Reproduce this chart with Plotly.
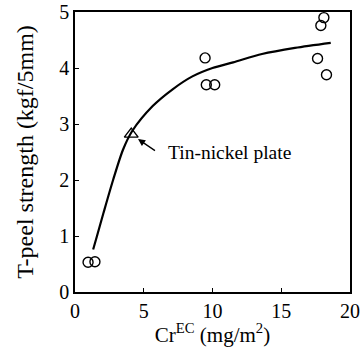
import plotly.graph_objects as go

# Data
cr_points = [0.95, 1.45, 9.46, 9.55, 10.16, 18.1, 17.88, 17.64, 18.29]
peel_points = [0.53, 0.54, 4.18, 3.70, 3.70, 4.90, 4.76, 4.17, 3.88]

tin_nickel_x = [4.09]
tin_nickel_y = [2.82]

curve_x = [1.32, 1.6, 2.07, 2.77, 3.49, 4.15, 5.65, 7.1, 8.54, 10.0, 11.5, 13.6, 16.0, 18.6]
curve_y = [0.76, 1.0, 1.41, 2.0, 2.54, 2.87, 3.32, 3.62, 3.85, 4.0, 4.1, 4.25, 4.36, 4.45]

x_ticks = [0, 5, 10, 15, 20]
y_ticks = [0, 1, 2, 3, 4, 5]

FONT = "Liberation Serif"

fig = go.Figure()
fig.add_trace(go.Scatter(x=curve_x, y=curve_y, mode="lines",
                         line=dict(color="black", width=2.2, shape="spline", smoothing=0.8),
                         showlegend=False, hoverinfo="skip"))
fig.add_trace(go.Scatter(x=cr_points, y=peel_points, mode="markers",
                         marker=dict(symbol="circle-open", size=10, color="black",
                                     line=dict(color="black", width=1.4)),
                         cliponaxis=False, showlegend=False))
fig.add_trace(go.Scatter(x=tin_nickel_x, y=tin_nickel_y, mode="markers",
                         marker=dict(symbol="triangle-up-open", size=12, color="black",
                                     line=dict(color="black", width=1.4)),
                         cliponaxis=False, showlegend=False))

# arrow pointing at the tin-nickel triangle
fig.add_annotation(x=4.58, y=2.73, xref="x", yref="y", text="", showarrow=True,
                   ax=18.5, ay=12.5, arrowhead=2, arrowsize=1.1, arrowwidth=1.3,
                   arrowcolor="black")
fig.add_annotation(x=6.64, y=2.49, xref="x", yref="y", text="Tin-nickel plate",
                   showarrow=False, xanchor="left", yanchor="middle",
                   font=dict(family=FONT, size=19.5, color="black"))

axis_common = dict(showgrid=False, zeroline=False, showline=True, linecolor="black",
                   linewidth=1.6, mirror=True, ticks="inside", ticklen=4, tickwidth=1.2,
                   tickcolor="black", automargin=False,
                   tickfont=dict(family=FONT, size=20, color="black"))

fig.update_xaxes(range=[0, 20], tickvals=x_ticks, ticktext=[str(v) for v in x_ticks],
                 title=dict(text="Cr<sup>EC</sup> (mg/m<sup>2</sup>)",
                            font=dict(family=FONT, size=21, color="black"), standoff=9),
                 **axis_common)
fig.update_yaxes(range=[0, 5], tickvals=y_ticks, ticktext=[str(v) for v in y_ticks],
                 title=dict(text="T-peel strength (kgf/5mm)",
                            font=dict(family=FONT, size=24, color="black"), standoff=19),
                 **axis_common)

fig.update_layout(width=362, height=347, margin=dict(l=75, r=12, t=12, b=55),
                  plot_bgcolor="white", paper_bgcolor="white", showlegend=False)

fig.write_html("out.html", config={"displayModeBar": False},
               post_script="document.body.style.margin='0';document.body.style.overflow='hidden';")
